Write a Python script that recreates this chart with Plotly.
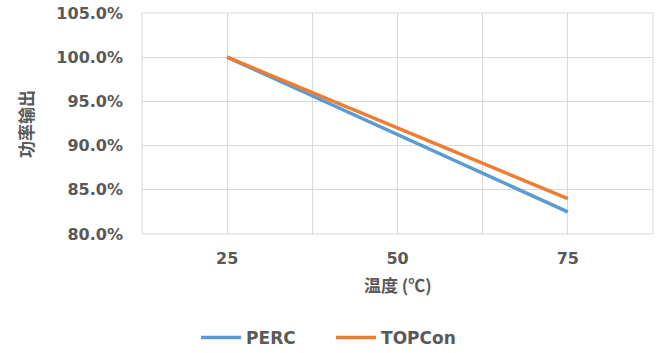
import plotly.graph_objects as go

# Temperature (°C) and relative power output
temperature = [25, 50, 75]
perc_output = [1.0, 0.9125, 0.825]
topcon_output = [1.0, 0.92, 0.84]

x_tick_vals = [12.5, 25, 37.5, 50, 62.5, 75, 87.5]
x_tick_text = ["", "25", "", "50", "", "75", ""]
y_tick_vals = [0.80, 0.85, 0.90, 0.95, 1.00, 1.05]

font_family = "DejaVu Sans, Noto Sans CJK SC, sans-serif"
cjk_family = "Noto Sans CJK SC, DejaVu Sans, sans-serif"
text_color = "#595959"
grid_color = "#D9D9D9"

fig = go.Figure()
fig.add_trace(go.Scatter(
    x=temperature, y=perc_output, name="PERC", mode="lines",
    line=dict(color="#5B9BD5", width=3.5),
))
fig.add_trace(go.Scatter(
    x=temperature, y=topcon_output, name="TOPCon", mode="lines",
    line=dict(color="#ED7D31", width=3.5),
))

fig.update_layout(
    width=664, height=353,
    margin=dict(l=142, r=11, t=13, b=119, autoexpand=False),
    paper_bgcolor="white", plot_bgcolor="white",
    font=dict(family=font_family, color=text_color, size=16),
    showlegend=True,
    legend=dict(
        orientation="h", x=0.37, y=-0.47, xanchor="center", yanchor="middle",
        font=dict(size=17, color=text_color, family=font_family, weight="bold"),
        itemwidth=40,
        entrywidth=80,
    ),
    xaxis=dict(
        range=[12.5, 87.5], tickvals=x_tick_vals, ticktext=x_tick_text,
        showgrid=True, gridcolor=grid_color, gridwidth=1,
        zeroline=False, showline=False, ticks="",
        tickfont=dict(size=16, color=text_color, weight="bold"),
        ticklabelstandoff=13,
    ),
    yaxis=dict(
        range=[0.80, 1.05], tickvals=y_tick_vals, tickformat=".1%",
        showgrid=True, gridcolor=grid_color, gridwidth=1,
        zeroline=False, showline=False, ticks="",
        tickfont=dict(size=16, color=text_color, weight="bold"),
        ticklabelstandoff=18,
    ),
    annotations=[
        dict(text="温度 (℃)", xref="paper", yref="paper", x=0.5, y=-0.23,
             xanchor="center", yanchor="middle", showarrow=False,
             font=dict(size=17, color=text_color, family=cjk_family, weight="bold")),
        dict(text="功率输出", xref="paper", yref="paper", x=-0.228, y=0.5,
             xanchor="center", yanchor="middle", showarrow=False, textangle=-90,
             font=dict(size=17, color=text_color, family=cjk_family, weight="bold")),
    ],
)
# Border of the plotting area in the grid colour
fig.add_shape(type="rect", xref="paper", yref="paper", x0=0, y0=0, x1=1, y1=1,
              line=dict(color=grid_color, width=1), layer="below")

fig.write_html("out.html")
